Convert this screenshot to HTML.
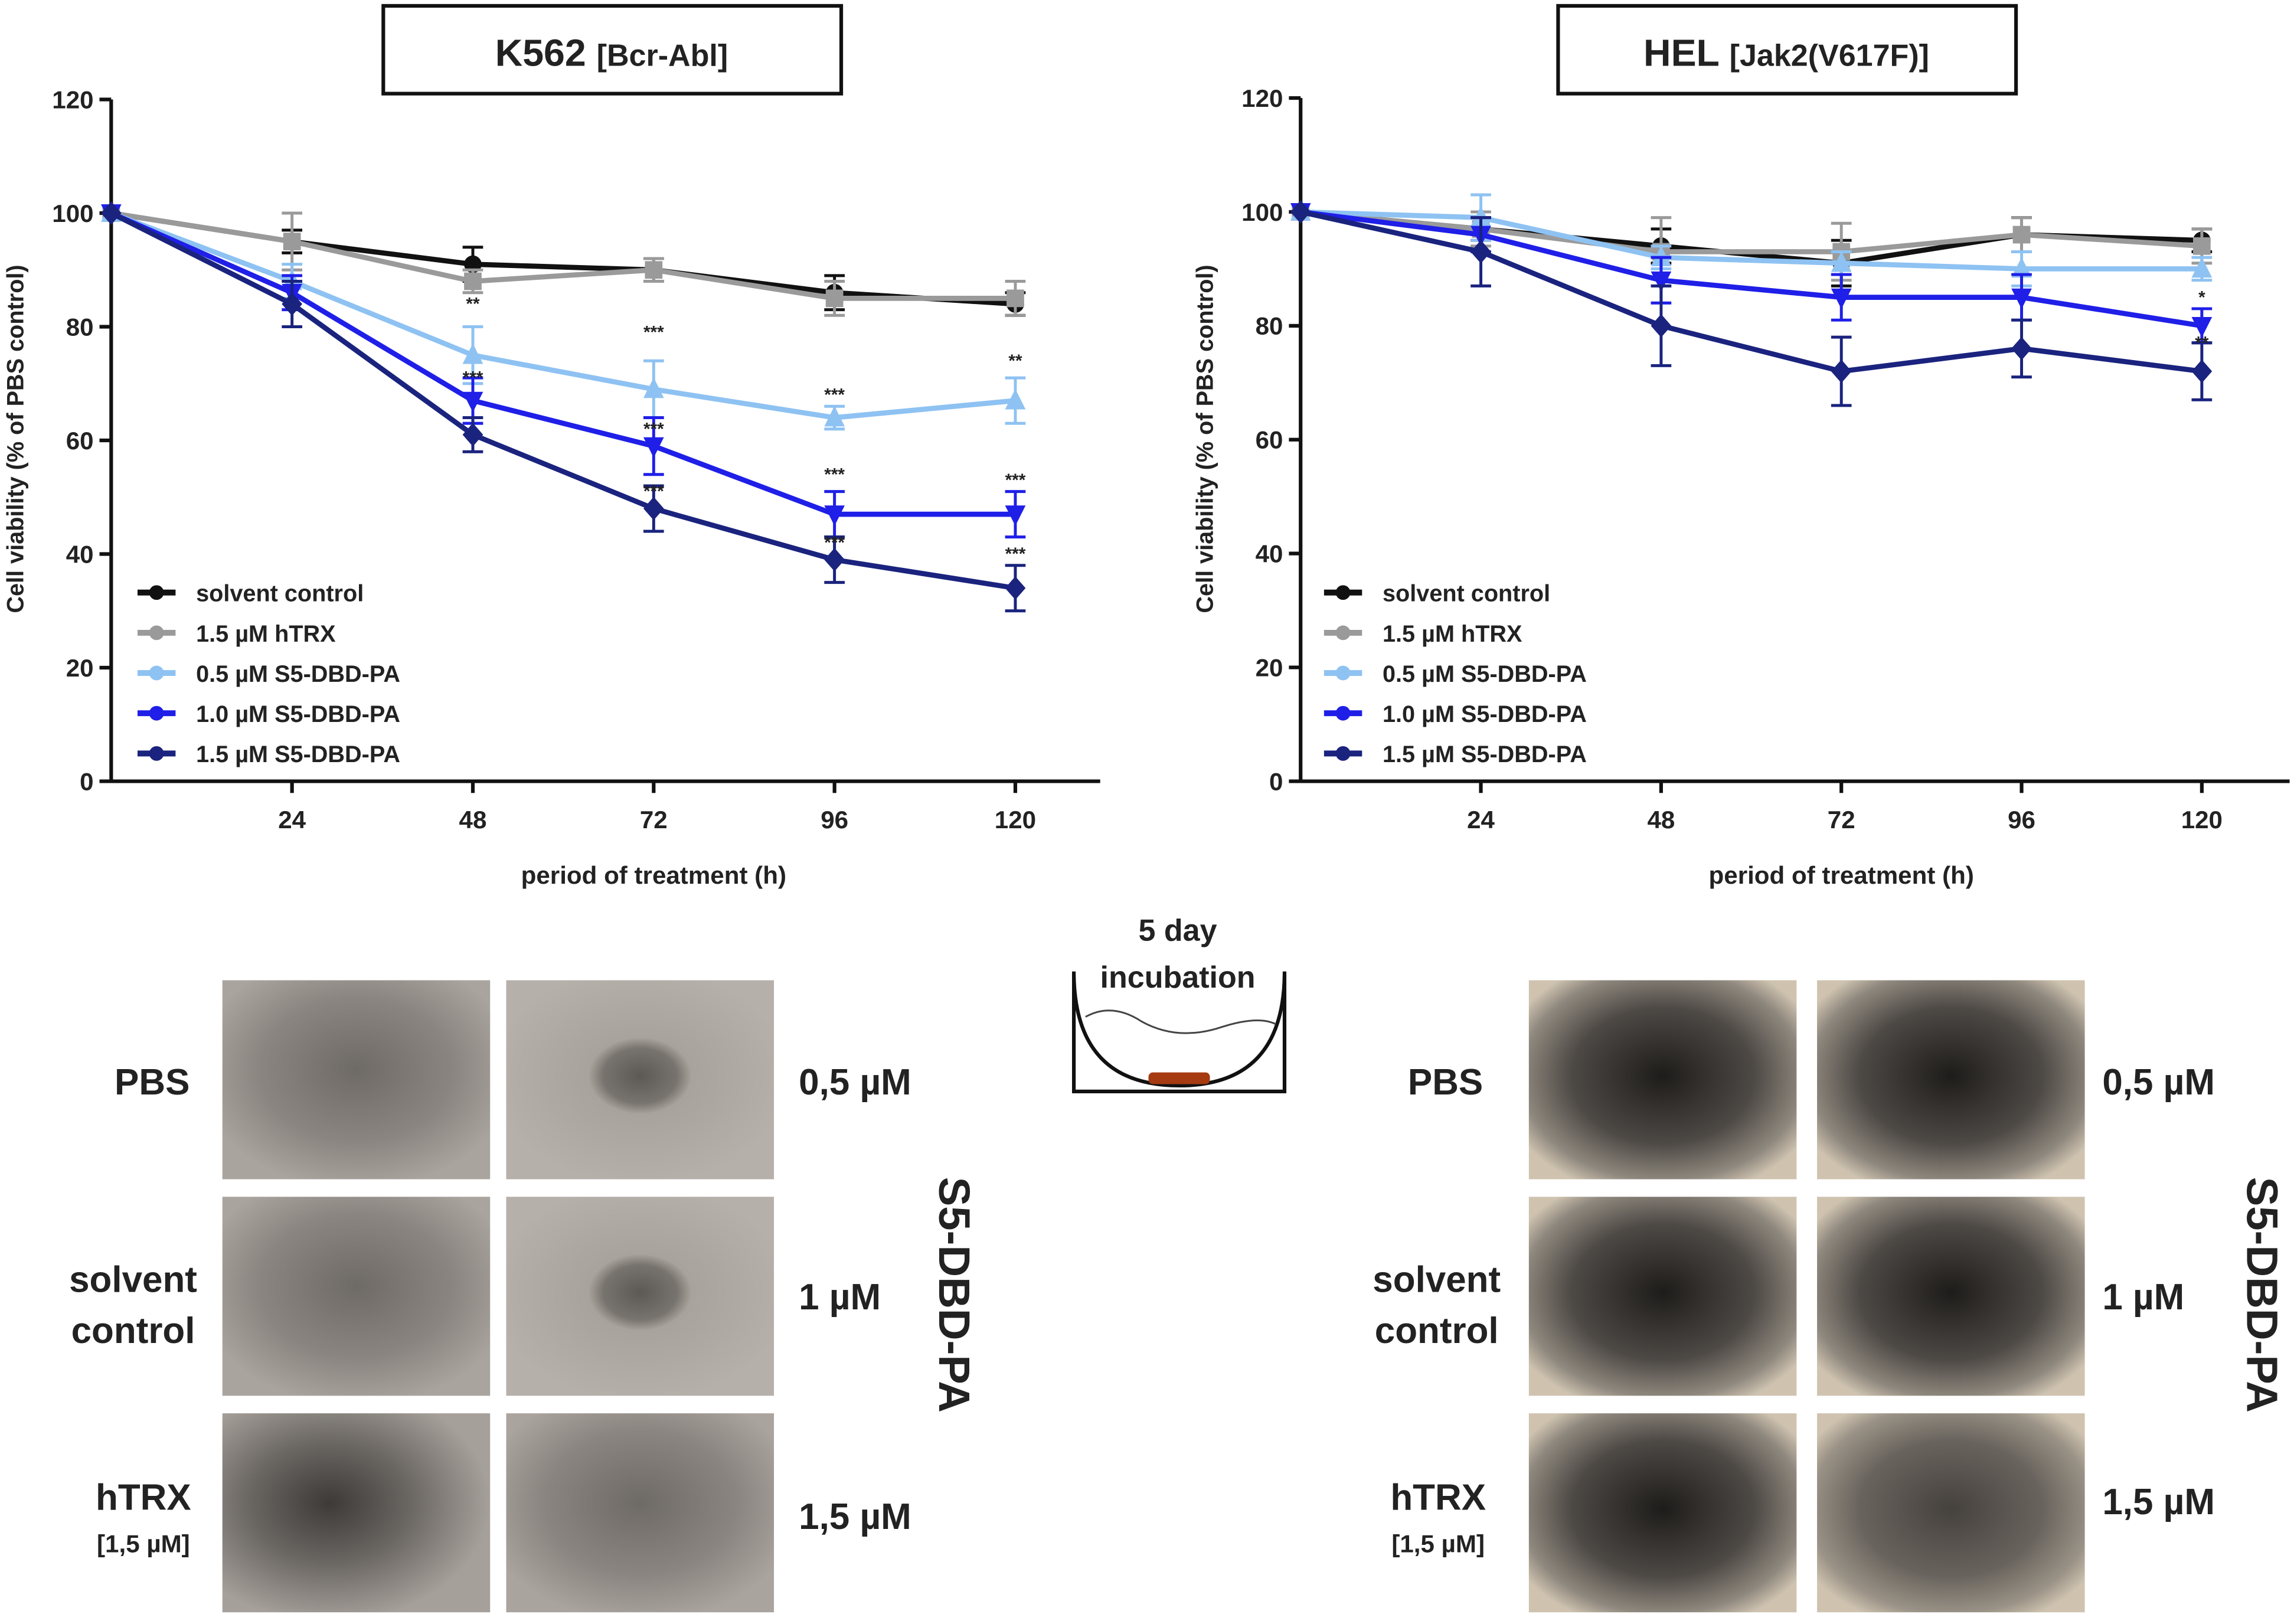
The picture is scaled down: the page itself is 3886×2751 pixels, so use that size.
<!DOCTYPE html>
<html><head><meta charset="utf-8"><style>
html,body{margin:0;padding:0;background:#fff}
svg{display:block}
text{font-family:"Liberation Sans",sans-serif;font-weight:bold;fill:#222}
</style></head><body>
<svg id="s" width="3886" height="2751" viewBox="0 0 1568 1110" preserveAspectRatio="none" xmlns="http://www.w3.org/2000/svg">
<defs>
<radialGradient id="gk1" cx="50%" cy="45%" r="60%"><stop offset="0" stop-color="#6e6a66"/><stop offset="0.6" stop-color="#8a8580"/><stop offset="1" stop-color="#a9a49e"/></radialGradient>
<radialGradient id="gk2" cx="50%" cy="48%" r="55%"><stop offset="0" stop-color="#5c5955"/><stop offset="0.25" stop-color="#77736e"/><stop offset="0.35" stop-color="#a8a39c"/><stop offset="1" stop-color="#b5b0a9"/></radialGradient>
<radialGradient id="gk3" cx="40%" cy="45%" r="60%"><stop offset="0" stop-color="#3d3a37"/><stop offset="0.5" stop-color="#6a6662"/><stop offset="1" stop-color="#a5a09a"/></radialGradient>
<radialGradient id="gh" cx="50%" cy="48%" r="62%"><stop offset="0" stop-color="#1e1c1a"/><stop offset="0.55" stop-color="#4d4945"/><stop offset="0.85" stop-color="#8f887e"/><stop offset="1" stop-color="#cfc3b0"/></radialGradient>
<radialGradient id="gh2" cx="50%" cy="48%" r="62%"><stop offset="0" stop-color="#45413d"/><stop offset="0.55" stop-color="#68635d"/><stop offset="0.85" stop-color="#9a9286"/><stop offset="1" stop-color="#cfc3b0"/></radialGradient>
</defs>
<g id="charts"></g>
<g id="images"></g>
</svg>
<script>
const times=[0,24,48,72,96,120];
const seriesNames=["solvent control","1.5 µM hTRX","0.5 µM S5-DBD-PA","1.0 µM S5-DBD-PA","1.5 µM S5-DBD-PA"];
const colors=["#111111","#9a9a9a","#8ec2f2","#1f1fe8","#1a237e"];
const yTicks=[0,20,40,60,80,100,120];
const xTicks=[24,48,72,96,120];
const k562Solvent=[100,95,91,90,86,84];
const k562HTRX=[100,95,88,90,85,85];
const k562Low=[100,88,75,69,64,67];
const k562Mid=[100,86,67,59,47,47];
const k562High=[100,84,61,48,39,34];
const k562Err=[[0,2,3,2,3,2],[0,5,2,2,3,3],[0,3,5,5,2,4],[0,3,4,5,4,4],[0,4,3,4,4,4]];
const helSolvent=[100,97,94,91,96,95];
const helHTRX=[100,97,93,93,96,94];
const helLow=[100,99,92,91,90,90];
const helMid=[100,96,88,85,85,80];
const helHigh=[100,93,80,72,76,72];
const helErr=[[0,2,3,4,3,2],[0,3,6,5,3,3],[0,4,2,2,3,2],[0,3,4,4,4,3],[0,6,7,6,5,5]];
const NS="http://www.w3.org/2000/svg";
function mk(p,tag,at,txt){const e=document.createElementNS(NS,tag);for(const k in at)e.setAttribute(k,at[k]);if(txt!==undefined)e.textContent=txt;p.appendChild(e);return e;}
const charts=document.getElementById('charts');
function chart(cfg){
  const g=mk(charts,'g',{});
  
  
  const X=v=>cfg.x0+(cfg.x120-cfg.x0)*v/120;
  const Y=v=>534-(534-cfg.y120)*v/120;
  // title box
  const tb=mk(g,'g',{});
  
  
  mk(tb,'rect',{x:cfg.bx,y:4,width:313,height:60,fill:'#fff',stroke:'#111','stroke-width':2.5});
  const t=mk(tb,'text',{x:cfg.bx+156,y:45,'text-anchor':'middle','font-size':26});
  mk(t,'tspan',{},cfg.t1);mk(t,'tspan',{'font-size':21},cfg.t2);
  // axes
  const ax=mk(g,'g',{stroke:'#111','stroke-width':2.5});
  
  
  mk(ax,'line',{x1:cfg.x0,y1:Y(120),x2:cfg.x0,y2:535});
  mk(ax,'line',{x1:cfg.x0,y1:534,x2:cfg.xend,y2:534});
  yTicks.forEach(v=>{
    mk(ax,'line',{x1:cfg.x0-8,y1:Y(v),x2:cfg.x0,y2:Y(v)});
    const tt=mk(g,'text',{x:cfg.x0-12,y:Y(v)+6,'text-anchor':'end','font-size':17},v);
    
    
  });
  xTicks.forEach(v=>{
    mk(ax,'line',{x1:X(v),y1:534,x2:X(v),y2:542});
    const tt=mk(g,'text',{x:X(v),y:566,'text-anchor':'middle','font-size':17},v);
    
    
  });
  const xt=mk(g,'text',{x:X(72),y:604,'text-anchor':'middle','font-size':17},'period of treatment (h)');
  
  
  const yt=mk(g,'text',{x:0,y:0,'text-anchor':'middle','font-size':16,transform:`translate(${cfg.x0-60},300) rotate(-90)`},'Cell viability (% of PBS control)');
  
  
  cfg.data.forEach((arr,si)=>{
    const sg=mk(g,'g',{});
    
    
    const c=colors[si];
    mk(sg,'polyline',{points:arr.map((v,i)=>X(times[i])+','+Y(v)).join(' '),fill:'none',stroke:c,'stroke-width':3.5});
    arr.forEach((v,i)=>{
      const e=cfg.err[si][i],x=X(times[i]);
      if(e>0){mk(sg,'line',{x1:x,y1:Y(v+e),x2:x,y2:Y(v-e),stroke:c,'stroke-width':2});
        mk(sg,'line',{x1:x-7,y1:Y(v+e),x2:x+7,y2:Y(v+e),stroke:c,'stroke-width':2});
        mk(sg,'line',{x1:x-7,y1:Y(v-e),x2:x+7,y2:Y(v-e),stroke:c,'stroke-width':2});}
      const y=Y(v);let m;
      if(si==0)m=mk(sg,'circle',{cx:x,cy:y,r:6,fill:c});
      else if(si==1)m=mk(sg,'rect',{x:x-6,y:y-6,width:12,height:12,fill:c});
      else if(si==2)m=mk(sg,'polygon',{points:`${x},${y-8} ${x-7},${y+6} ${x+7},${y+6}`,fill:c});
      else if(si==3)m=mk(sg,'polygon',{points:`${x},${y+8} ${x-7},${y-6} ${x+7},${y-6}`,fill:c});
      else m=mk(sg,'polygon',{points:`${x},${y-8} ${x-7},${y} ${x},${y+8} ${x+7},${y}`,fill:c});
      
      
    });
  });
  (cfg.stars||[]).forEach(s=>{mk(g,'text',{x:X(s[0]),y:Y(s[1]),'text-anchor':'middle','font-size':12,fill:'#333'},s[2]);});
  // legend
  const lg=mk(g,'g',{});
  
  
  seriesNames.forEach((n,i)=>{
    const y=405+i*27.5;
    const le=mk(lg,'g',{});
    
    
    mk(le,'line',{x1:cfg.lx,y1:y,x2:cfg.lx+26,y2:y,stroke:colors[i],'stroke-width':4});
    mk(le,'circle',{cx:cfg.lx+13,cy:y,r:5,fill:colors[i]});
    mk(le,'text',{x:cfg.lx+40,y:y+6,'font-size':16},n);
  });
}
chart({name:'k562-chart',x0:76,x120:694,xend:752,y120:68,bx:262,t1:'K562 ',t2:'[Bcr-Abl]',lx:94,
  data:[k562Solvent,k562HTRX,k562Low,k562Mid,k562High],err:k562Err,
  stars:[[48,83,'**'],[48,70,'***'],[72,78,'***'],[72,61,'***'],[72,50,'***'],[96,67,'***'],[96,53,'***'],[96,41,'***'],[120,73,'**'],[120,52,'***'],[120,39,'***']]});
chart({name:'hel-chart',x0:889,x120:1505,xend:1565,y120:67,bx:1065,t1:'HEL ',t2:'[Jak2(V617F)]',lx:905,
  data:[helSolvent,helHTRX,helLow,helMid,helHigh],err:helErr,
  stars:[[120,84,'*'],[120,76,'**']]});
// images
const im=document.getElementById('images');
const rows=[670,818,966];
function panel(x,y,fill,name){const r=mk(im,'rect',{x:x,y:y,width:183,height:136,fill:fill});
  
  }
['gk1','gk1','gk3'].forEach((f,i)=>panel(152,rows[i],'url(#'+f+')','k562-control-image'));
['gk2','gk2','gk1'].forEach((f,i)=>panel(346,rows[i],'url(#'+f+')','k562-treated-image'));
['gh','gh','gh'].forEach((f,i)=>panel(1045,rows[i],'url(#'+f+')','hel-control-image'));
['gh','gh','gh2'].forEach((f,i)=>panel(1242,rows[i],'url(#'+f+')','hel-treated-image'));
function lbl(x,y,t,sz,anc){const e=mk(im,'text',{x:x,y:y,'font-size':sz||25,'text-anchor':anc||'middle'},t);
  
  }
lbl(104,748,'PBS');lbl(91,883,'solvent');lbl(91,918,'control');lbl(98,1032,'hTRX');lbl(98,1061,'[1,5 µM]',17);
lbl(546,748,'0,5 µM',25,'start');lbl(546,895,'1 µM',25,'start');lbl(546,1045,'1,5 µM',25,'start');
lbl(988,748,'PBS');lbl(982,883,'solvent');lbl(982,918,'control');lbl(983,1032,'hTRX');lbl(983,1061,'[1,5 µM]',17);
lbl(1437,748,'0,5 µM',25,'start');lbl(1437,895,'1 µM',25,'start');lbl(1437,1035,'1,5 µM',25,'start');
const v1=mk(im,'text',{x:0,y:0,'font-size':30,'text-anchor':'middle',transform:'translate(642,885) rotate(90)'},'S5-DBD-PA');

const v2=mk(im,'text',{x:0,y:0,'font-size':30,'text-anchor':'middle',transform:'translate(1536,885) rotate(90)'},'S5-DBD-PA');

// well icon
const w=mk(im,'g',{});


mk(w,'text',{x:805,y:643,'font-size':21,'text-anchor':'middle'},'5 day');
mk(w,'text',{x:805,y:675,'font-size':21,'text-anchor':'middle'},'incubation');
mk(w,'path',{d:'M734,664 L734,746 L878,746 L878,664 M734,664 Q734,742 806,742 Q878,742 878,664',fill:'none',stroke:'#111','stroke-width':2.5});
mk(w,'path',{d:'M742,695 Q760,685 780,698 Q805,712 835,702 Q860,694 872,700',fill:'none',stroke:'#444','stroke-width':1.2});
mk(w,'rect',{x:785,y:733,width:42,height:8,rx:3,fill:'#a63a10'});
</script>
</body></html>
